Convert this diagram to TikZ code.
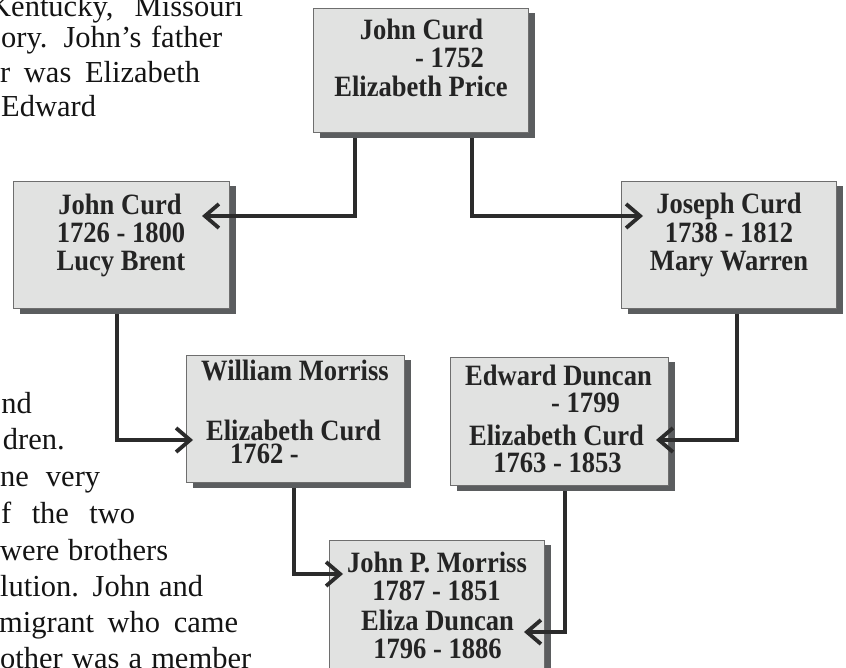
\documentclass[tikz,border=0pt]{standalone}
\usepackage{fontspec}
\setmainfont{Liberation Serif}
\newfontfamily\cardfont[FakeStretch=0.9]{Liberation Serif}
\newfontfamily\paratext{Liberation Serif}
\usetikzlibrary{arrows.meta,calc}
\definecolor{boxfill}{HTML}{E1E2E1}
\definecolor{boxline}{HTML}{6E6E6E}
\definecolor{shadowc}{HTML}{5B5D5F}
\definecolor{connc}{HTML}{2B2B2B}
\definecolor{boxtext}{HTML}{242424}
\definecolor{bodytext}{HTML}{141414}
\newcommand\famcard[5]{% name, x, y, width, height
  \fill[shadowc] (#2+7,#3+5) rectangle (#2+#4+7,#3+#5+6);
  \node[person, minimum width=#4pt, minimum height=#5pt] (#1) at (#2,#3) {};
}
\begin{document}
\begin{tikzpicture}[x=1pt,y=-1pt,
  person/.style={draw=boxline, line width=0.9pt, fill=boxfill, inner sep=0pt, outer sep=0pt, anchor=north west},
  pname/.style={font=\cardfont\fontsize{29.5}{30}\selectfont\bfseries, text=boxtext, inner sep=0pt, anchor=base},
  body/.style={font=\paratext\fontsize{30.5}{33}\selectfont, text=bodytext, inner sep=0pt, anchor=base west},
  bodyr/.style={body, anchor=base east},
  conn/.style={draw=connc, line width=3.8pt, -{Straight Barb[length=14pt,width=24pt]}},
]
\useasboundingbox (0,0) rectangle (846,668);
\fill[white] (0,0) rectangle (846,668);

% background paragraph text
\node[body] (p1) at (-11,17) {\makebox[254pt][s]{Kentucky, Missouri}};
\node[body] (p2) at (1,48) {\makebox[221pt][s]{ory. John’s father}};
\node[body] (p3) at (0,83) {\makebox[200pt][s]{r was Elizabeth}};
\node[body] (p4) at (1,117) {Edward};
\node[bodyr] (p5) at (32,413) {nd};
\node[bodyr] (p6) at (65,449) {dren.};
\node[body] (p7) at (0,486) {\makebox[100pt][s]{ne very}};
\node[body] (p8) at (1,523) {\makebox[134pt][s]{f the two}};
\node[body] (p9) at (0,560) {\makebox[168pt][s]{were brothers}};
\node[body] (p10) at (0,596) {\makebox[203pt][s]{lution. John and}};
\node[body] (p11) at (-1,632) {\makebox[239pt][s]{migrant who came}};
\node[body] (p12) at (0,668) {\makebox[251pt][s]{other was a member}};

% boxes
\famcard{b1}{313}{8}{215}{124}
\famcard{b2}{13}{181}{216}{127}
\famcard{b3}{621}{181}{215}{127}
\famcard{b4}{186}{355}{218}{127}
\famcard{b5}{450}{357}{218}{128}
\famcard{b6}{329}{540}{215}{140}

% box texts
\node[pname] (t1a) at (421.5,40) {John Curd};
\node[pname, anchor=base east] (t1b) at (484,68) {- 1752};
\node[pname] (t1c) at (421,97) {Elizabeth Price};

\node[pname] (t2a) at (120,215) {John Curd};
\node[pname] (t2b) at (121,243) {1726 - 1800};
\node[pname] (t2c) at (121,271) {Lucy Brent};

\node[pname] (t3a) at (729,214) {Joseph Curd};
\node[pname] (t3b) at (729,243) {1738 - 1812};
\node[pname] (t3c) at (729,271) {Mary Warren};

\node[pname] (t4a) at (295,380) {William Morriss};
\node[pname] (t4b) at (293.5,440) {Elizabeth Curd};
\node[pname, anchor=base west] (t4c) at (230,463) {1762 -};

\node[pname] (t5a) at (558.5,385) {Edward Duncan};
\node[pname, anchor=base east] (t5b) at (620,412) {- 1799};
\node[pname] (t5c) at (556.5,445) {Elizabeth Curd};
\node[pname] (t5d) at (557.5,472) {1763 - 1853};

\node[pname] (t6a) at (437,572) {John P. Morriss};
\node[pname] (t6b) at (436.5,600) {1787 - 1851};
\node[pname] (t6c) at (437.5,630) {Eliza Duncan};
\node[pname] (t6d) at (437.5,658) {1796 - 1886};

% connectors
\draw[conn] ($(b1.south west)+(42,6)$) |- ($(b2.north east)+(-27,35)$);
\draw[conn] ($(b1.south west)+(159,6)$) |- ($(b3.north west)+(22,35)$);
\draw[conn] ($(b2.south west)+(104,6)$) |- ($(b4.north west)+(7,85)$);
\draw[conn] ($(b3.south west)+(116,6)$) |- ($(b5.north east)+(-12,83)$);
\draw[conn] ($(b4.south west)+(108,6)$) |- ($(b6.north west)+(14,34)$);
\draw[conn] ($(b5.south west)+(115,6)$) |- ($(b6.north east)+(-20,92)$);
\end{tikzpicture}
\end{document}
